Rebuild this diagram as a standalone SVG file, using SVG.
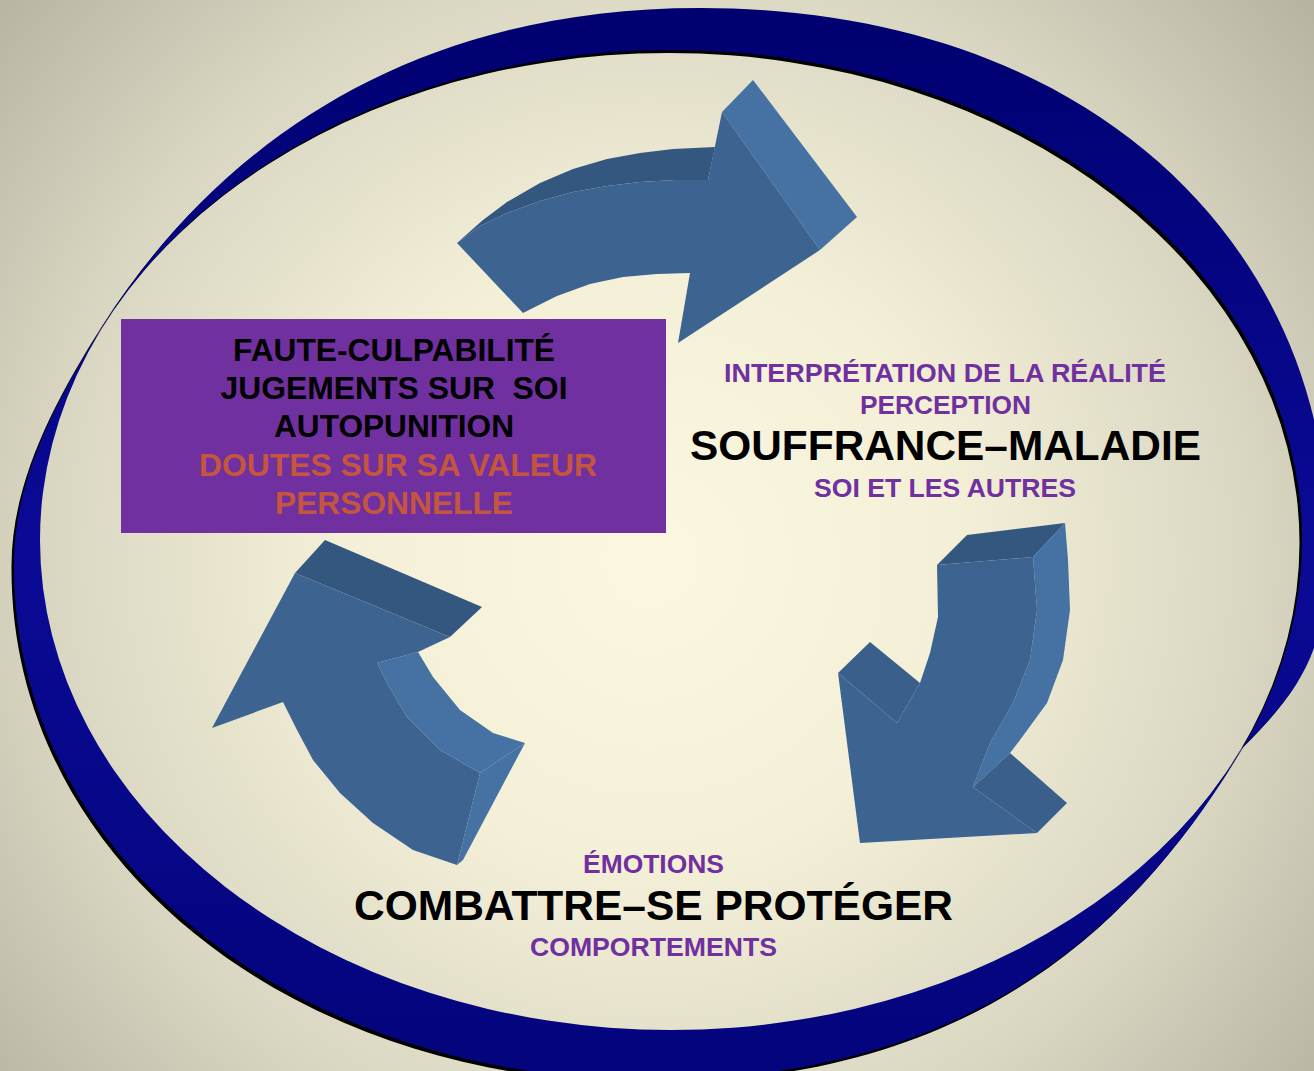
<svg xmlns="http://www.w3.org/2000/svg" width="1314" height="1071" viewBox="0 0 1314 1071">
  <defs>
    <radialGradient id="bg" gradientUnits="userSpaceOnUse" cx="650" cy="560" r="860">
      <stop offset="0" stop-color="#fcf7e0"/>
      <stop offset="0.35" stop-color="#f4f0d8"/>
      <stop offset="0.7" stop-color="#d9d6c2"/>
      <stop offset="1" stop-color="#b7b4a2"/>
    </radialGradient>
    <linearGradient id="ringFill" x1="0" y1="0" x2="0" y2="1">
      <stop offset="0" stop-color="#000070"/>
      <stop offset="0.5" stop-color="#0a0a96"/>
      <stop offset="1" stop-color="#04047c"/>
    </linearGradient>
    <!-- the ring: a free outer curve minus an inner ellipse -->
    <path id="ringShape" fill-rule="evenodd" d="M14,563 C14,478 58.6,396 104,324 C211,155 400,8 700,8 C1095,8 1328,250 1328,540 C1330,650 1300,690 1244,746 C1142,918 980,1080 650,1080 C300,1080 12,860 14,563 Z M40,540 A631,490 0 1,0 1302,540 A631,490 0 1,0 40,540 Z"/>
    <filter id="soft" x="-5%" y="-5%" width="110%" height="110%">
      <feGaussianBlur stdDeviation="0.7"/>
    </filter>
    <style>
      .front { fill:#3d6390; }
      .dark { fill:#34577f; }
      .mid { fill:#3a5f8b; }
      .light { fill:#4571a3; }
      .t { font-family:"Liberation Sans", Arial, Helvetica, sans-serif; font-weight:bold; text-anchor:middle; white-space:pre; }
      .box { font-size:31px; fill:#000000; }
      .box2 { font-size:31px; fill:#c4563f; }
      .sub { font-size:26px; fill:#7030a0; }
      .big { font-size:42px; fill:#000000; }
    </style>
  </defs>

  <!-- backdrop -->
  <rect x="0" y="0" width="1314" height="1071" fill="url(#bg)"/>

  <!-- ellipse ring with its dark under-edge -->
  <g id="ring">
    <use href="#ringShape" fill="#000000" transform="translate(-2.5,3)" filter="url(#soft)"/>
    <use href="#ringShape" fill="url(#ringFill)"/>
  </g>

  <!-- the three curved 3D arrows of the cycle -->
  <g id="connectors">
    <!-- top arrow, pointing right -->
    <g id="arrow-top">
      <polygon class="dark" points="457,243 483,220 507,202 540,183 573,169 607,159 640,153 673,149 715,147 708,180 675,180 640,182 607,186 573,192 540,201 507,213 480,226"/>
      <polygon class="light" points="722,112 753,80 857,217 820,250"/>
      <polygon class="front" points="457,243 480,226 507,213 540,201 573,192 607,186 640,182 675,180 708,180 722,112 820,250 678,343 690,273 657,274 623,277 590,284 557,296 523,313"/>
    </g>
    <!-- right arrow, pointing down-left -->
    <g id="arrow-right">
      <polygon class="dark" points="937,565 967,535 1065,523 1033,557"/>
      <polygon class="light" points="1033,557 1037,610 1030,660 1013,703 990,743 973,787 1010,753 1020,740 1047,703 1063,660 1070,610 1068,560 1065,523"/>
      <polygon class="mid" points="973,787 1010,753 1067,803 1037,833"/>
      <polygon class="mid" points="838,673 870,642 920,683 897,723"/>
      <polygon class="front" points="937,565 1033,557 1037,610 1030,660 1013,703 990,743 973,787 1037,833 860,843 838,673 897,723 920,683 930,653 938,617"/>
    </g>
    <!-- left arrow, pointing up-left -->
    <g id="arrow-left">
      <polygon class="dark" points="295,573 325,540 482,607 450,637"/>
      <polygon class="light" points="377,663 418,652 433,677 460,710 493,733 525,743 480,773 440,750 407,717 387,683"/>
      <polygon class="light" points="480,773 525,743 463,860 457,865"/>
      <polygon class="front" points="212,728 295,573 450,637 418,652 377,663 387,683 407,717 440,750 480,773 457,865 413,850 373,823 340,793 313,760 297,730 283,702"/>
    </g>
  </g>

  <!-- node: purple box -->
  <g id="node-faute">
    <rect x="121" y="319" width="545" height="214" fill="#7030a0"/>
    <text class="t box" x="394" y="361" textLength="322" lengthAdjust="spacingAndGlyphs">FAUTE-CULPABILITÉ</text>
    <text class="t box" x="394" y="399" textLength="347" lengthAdjust="spacingAndGlyphs">JUGEMENTS SUR  SOI</text>
    <text class="t box" x="394" y="437" textLength="240" lengthAdjust="spacingAndGlyphs">AUTOPUNITION</text>
    <text class="t box2" x="398" y="476" textLength="398" lengthAdjust="spacingAndGlyphs">DOUTES SUR SA VALEUR</text>
    <text class="t box2" x="394" y="514" textLength="238" lengthAdjust="spacingAndGlyphs">PERSONNELLE</text>
  </g>

  <!-- node: suffering / illness -->
  <g id="node-souffrance">
    <text class="t sub" x="945" y="382" textLength="442" lengthAdjust="spacingAndGlyphs">INTERPRÉTATION DE LA RÉALITÉ</text>
    <text class="t sub" x="945.5" y="414" textLength="171" lengthAdjust="spacingAndGlyphs">PERCEPTION</text>
    <text class="t big" x="945.5" y="460" textLength="511" lengthAdjust="spacingAndGlyphs">SOUFFRANCE–MALADIE</text>
    <text class="t sub" x="945" y="497" textLength="262" lengthAdjust="spacingAndGlyphs">SOI ET LES AUTRES</text>
  </g>

  <!-- node: fight / protect oneself -->
  <g id="node-combattre">
    <text class="t sub" x="653.5" y="873" textLength="141" lengthAdjust="spacingAndGlyphs">ÉMOTIONS</text>
    <text class="t big" x="653.5" y="920" textLength="599" lengthAdjust="spacingAndGlyphs">COMBATTRE–SE PROTÉGER</text>
    <text class="t sub" x="653.5" y="956" textLength="247" lengthAdjust="spacingAndGlyphs">COMPORTEMENTS</text>
  </g>
</svg>
